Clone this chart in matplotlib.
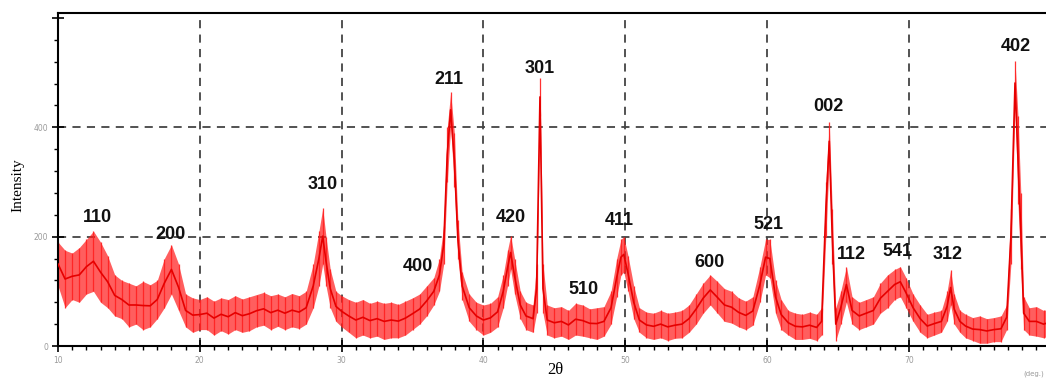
import matplotlib
matplotlib.use('Agg')
import matplotlib.pyplot as plt
import numpy as np
from matplotlib.ticker import MultipleLocator, FixedLocator

# 2theta positions and the top / bottom of the noisy trace
theta = [10.0, 10.5, 11.0, 11.5, 12.0, 12.5, 13.0, 13.5, 14.0, 14.5, 15.0, 15.5,
         16.0, 16.5, 17.0, 17.5, 18.0, 18.5, 19.0, 19.5, 20.0, 20.5, 21.0, 21.5,
         22.0, 22.5, 23.0, 23.5, 24.0, 24.5, 25.0, 25.5, 26.0, 26.5, 27.0, 27.5,
         28.0, 28.4, 28.67, 28.9, 29.2, 29.6, 30.0, 30.5, 31.0, 31.5, 32.0, 32.5,
         33.0, 33.5, 34.0, 34.5, 35.0, 35.5, 36.0, 36.5, 36.9, 37.2, 37.45, 37.69,
         37.95, 38.2, 38.5, 39.0, 39.5, 40.0, 40.5, 41.0, 41.4, 41.7, 41.92, 42.2,
         42.6, 43.0, 43.5, 43.75, 43.99, 44.2, 44.5, 45.0, 45.5, 46.0, 46.5, 47.0,
         47.5, 48.0, 48.5, 49.0, 49.4, 49.7, 49.9, 50.2, 50.6, 51.0, 51.5, 52.0,
         52.5, 53.0, 53.5, 54.0, 54.5, 55.0, 55.5, 56.0, 56.5, 57.0, 57.5, 58.0,
         58.5, 59.0, 59.5, 59.9, 60.2, 60.6, 61.0, 61.5, 62.0, 62.5, 63.0, 63.5,
         63.85, 64.15, 64.39, 64.6, 64.85, 65.2, 65.6, 66.0, 66.5, 67.0, 67.5, 68.0,
         68.5, 69.0, 69.4, 69.8, 70.3, 70.8, 71.3, 71.8, 72.3, 72.7, 72.95, 73.2,
         73.6, 74.0, 74.5, 75.0, 75.5, 76.0, 76.5, 76.9, 77.2, 77.49, 77.7, 77.9,
         78.1, 78.5, 79.0, 79.5, 80.0]
upper = [190, 175, 170, 180, 195, 210, 190, 165, 130, 120, 115, 110,
         118, 112, 120, 160, 185, 150, 95, 88, 85, 90, 82, 88,
         85, 92, 86, 90, 94, 98, 92, 95, 90, 96, 92, 100,
         150, 210, 252, 200, 140, 100, 92, 85, 80, 85, 78, 82,
         78, 80, 76, 82, 88, 95, 110, 125, 160, 220, 400, 464,
         390, 230, 135, 95, 80, 75, 78, 90, 130, 175, 202, 160,
         100, 80, 75, 150, 491, 150, 75, 70, 72, 65, 78, 75,
         68, 70, 72, 100, 160, 195, 200, 165, 110, 70, 62, 60,
         65, 60, 62, 65, 75, 95, 115, 130, 118, 105, 100, 88,
         82, 90, 145, 195, 195, 120, 85, 65, 60, 58, 62, 58,
         70, 300, 409, 250, 70, 100, 145, 90, 80, 85, 90, 115,
         130, 140, 145, 125, 95, 75, 58, 62, 65, 100, 139, 95,
         65, 58, 52, 55, 50, 52, 55, 75, 250, 522, 420, 280,
         90, 70, 72, 65, 68]
lower = [110, 70, 85, 80, 95, 100, 80, 70, 55, 50, 35, 40,
         30, 35, 50, 70, 95, 65, 35, 25, 30, 30, 20, 28,
         22, 30, 25, 28, 35, 38, 30, 36, 30, 35, 32, 40,
         70, 110, 150, 110, 70, 45, 35, 25, 15, 20, 15, 18,
         12, 15, 15, 20, 30, 40, 55, 75, 100, 150, 300, 400,
         290, 160, 85, 45, 30, 20, 25, 35, 70, 110, 140, 95,
         50, 30, 25, 60, 420, 60, 20, 15, 18, 12, 20, 18,
         15, 12, 18, 40, 90, 130, 135, 100, 50, 25, 15, 12,
         15, 10, 14, 15, 25, 40, 60, 75, 60, 45, 42, 35,
         30, 38, 80, 130, 125, 60, 30, 20, 12, 12, 14, 10,
         20, 200, 340, 150, 10, 40, 80, 40, 30, 35, 40, 60,
         70, 85, 90, 70, 45, 25, 15, 20, 25, 45, 75, 40,
         25, 15, 10, 5, 5, 8, 8, 30, 150, 440, 260, 140,
         30, 20, 18, 15, 20]

# peak labels (hkl) and where they sit
hkl = ['110', '200', '310', '400', '211', '420', '301', '510', '411',
       '600', '521', '002', '112', '541', '312', '402']
hkl_x = [12.75, 17.9, 28.69, 35.39, 37.57, 41.95, 43.99, 47.09, 49.56,
         55.98, 60.07, 64.3, 65.92, 69.17, 72.76, 77.56]
hkl_y = [235, 204, 296, 146, 487, 235, 507, 104, 230,
         153, 223, 438, 168, 172, 168, 547]

W, H = 1046, 381
fig = plt.figure(figsize=(W / 100, H / 100), dpi=100)
ax = fig.add_axes([58 / W, 35 / H, 992.6 / W, 333 / H])

up = np.array(upper)
lo = np.array(lower)
ax.fill_between(theta, lo, up, color='#ff1a1a', alpha=0.7, lw=0, zorder=2)
ax.vlines(theta, lo, up, color='#ff2020', lw=0.9, alpha=0.9, zorder=2)
ax.plot(theta, (up + lo) / 2, color='#e60000', lw=1.2, zorder=3)

for t, xx, yy in zip(hkl, hkl_x, hkl_y):
    ax.text(xx, yy, t, ha='center', va='center', fontsize=13,
            fontweight='bold', family='Liberation Sans', color='#111111', zorder=5)

ax.set_xlim(10, 80)
ax.set_ylim(0, 609)

# dashed grid at 20..70 and 200/400
for gx in [20, 30, 40, 50, 60, 70]:
    ax.axvline(gx, color='#444444', lw=1.3, ls=(0, (4.5, 3.5)), zorder=1)
for gy in [200, 400]:
    ax.axhline(gy, color='#444444', lw=1.3, ls=(0, (4.5, 3.5)), zorder=1)

ax.xaxis.set_major_locator(FixedLocator([10, 20, 30, 40, 50, 60, 70]))
ax.xaxis.set_minor_locator(MultipleLocator(1))
ax.set_xticklabels(['10', '20', '30', '40', '50', '60', '70'])
ax.yaxis.set_major_locator(FixedLocator([0, 200, 400, 600]))
ax.yaxis.set_minor_locator(MultipleLocator(40))
ax.set_yticklabels(['0', '200', '400', ''])
ax.tick_params(axis='both', which='major', direction='inout', length=8,
               width=1.2, labelsize=5.5, labelcolor='#9a9a9a', pad=3)
ax.tick_params(axis='both', which='minor', direction='out', length=3, width=1)

for s in ['left', 'bottom', 'top']:
    ax.spines[s].set_linewidth(1.5)
    ax.spines[s].set_color('black')
ax.spines['right'].set_visible(False)

fig.text(555 / W, 1 - 370 / H, '2θ', ha='center', va='center',
         fontsize=12, family='Liberation Serif')
fig.text(18 / W, 1 - 185 / H, 'Intensity', ha='center', va='center',
         rotation=90, fontsize=11, family='Liberation Serif')
fig.text(1044 / W, 1 - 374 / H, '(deg.)', ha='right', va='center',
         fontsize=5, color='#9a9a9a')

fig.savefig('out.png', dpi=100)
